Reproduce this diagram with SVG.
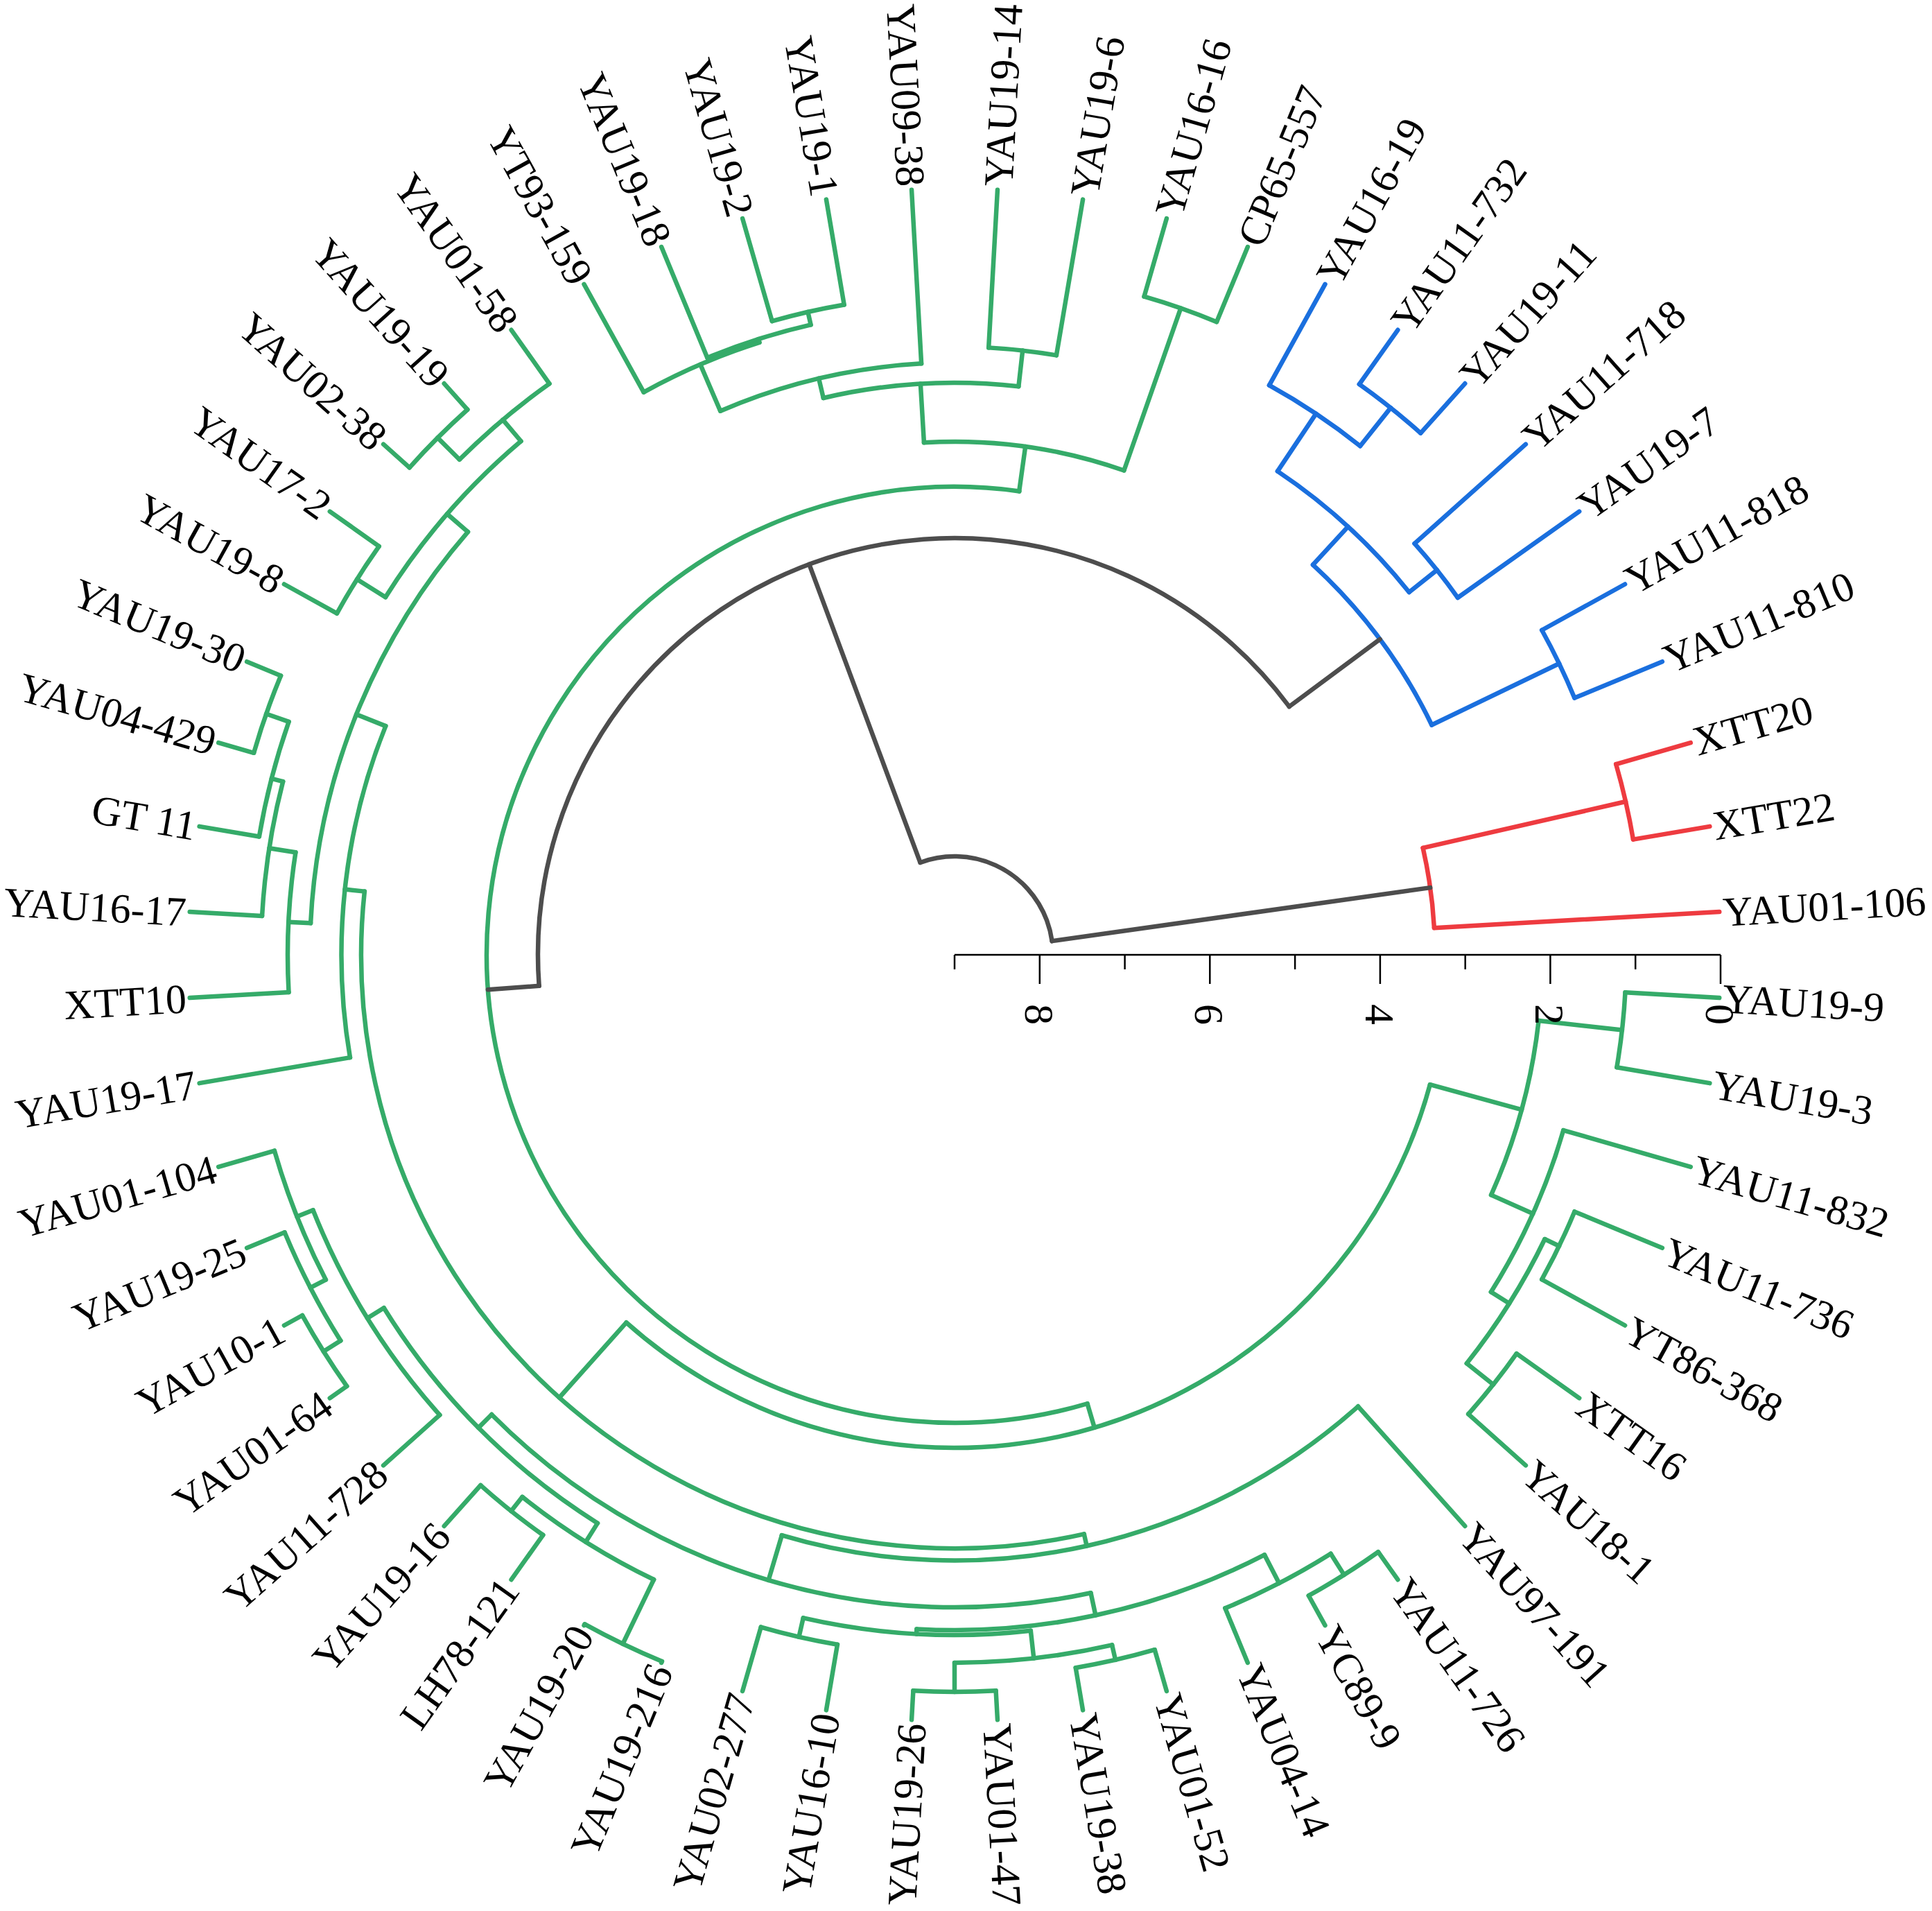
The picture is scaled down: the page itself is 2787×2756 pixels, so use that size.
<svg xmlns="http://www.w3.org/2000/svg" width="2787" height="2756" viewBox="0 0 2787 2756">
<style>
.conn line,.conn circle{fill:none;stroke-width:6.5;stroke-linecap:round}
.g{stroke:#35AB69}.b{stroke:#1A6FDE}.r{stroke:#EE3B40}.k{stroke:#4D4D4D}
text{font-family:"Liberation Serif","Times New Roman",serif;font-size:60px;fill:#000}
.l{text-anchor:end}
.axis line{stroke:#000;stroke-width:2.5}
.axis text{text-anchor:middle}
</style>
<rect width="2787" height="2756" fill="#fff"/>
<g transform="translate(1377 1377)">
<g id="connectors" class="conn">
<g class="g">
<circle r="969" transform="rotate(3.214)" stroke-dasharray="108.73 10000"/>
<circle r="968" transform="rotate(22.5)" stroke-dasharray="108.62 10000"/>
<circle r="994" transform="rotate(35.357)" stroke-dasharray="111.53 10000"/>
<circle r="945" transform="rotate(25.714)" stroke-dasharray="212.06 10000"/>
<circle r="914" transform="rotate(16.071)" stroke-dasharray="256.39 10000"/>
<circle r="848" transform="rotate(6.429)" stroke-dasharray="261.64 10000"/>
<circle r="1056" transform="rotate(54.643)" stroke-dasharray="118.49 10000"/>
<circle r="1020" transform="rotate(57.857)" stroke-dasharray="171.67 10000"/>
<circle r="1043" transform="rotate(73.929)" stroke-dasharray="117.03 10000"/>
<circle r="1063" transform="rotate(86.786)" stroke-dasharray="119.28 10000"/>
<circle r="1021" transform="rotate(77.143)" stroke-dasharray="229.11 10000"/>
<circle r="1009" transform="rotate(99.643)" stroke-dasharray="113.22 10000"/>
<circle r="981" transform="rotate(83.571)" stroke-dasharray="330.21 10000"/>
<circle r="974" transform="rotate(62.679)" stroke-dasharray="519.08 10000"/>
<circle r="1103" transform="rotate(112.5)" stroke-dasharray="123.76 10000"/>
<circle r="1026" transform="rotate(125.357)" stroke-dasharray="115.12 10000"/>
<circle r="1000" transform="rotate(115.714)" stroke-dasharray="224.40 10000"/>
<circle r="1075" transform="rotate(144.643)" stroke-dasharray="120.62 10000"/>
<circle r="1046" transform="rotate(147.857)" stroke-dasharray="176.04 10000"/>
<circle r="1021" transform="rotate(152.679)" stroke-dasharray="200.47 10000"/>
<circle r="996" transform="rotate(138.214)" stroke-dasharray="349.23 10000"/>
<circle r="968" transform="rotate(122.143)" stroke-dasharray="441.22 10000"/>
<circle r="941" transform="rotate(77.946)" stroke-dasharray="940.33 10000"/>
<circle r="873.5" transform="rotate(48.214)" stroke-dasharray="889.73 10000"/>
<circle r="1052" transform="rotate(196.071)" stroke-dasharray="118.04 10000"/>
<circle r="1017.5" transform="rotate(189.643)" stroke-dasharray="171.25 10000"/>
<circle r="1000.5" transform="rotate(183.214)" stroke-dasharray="196.45 10000"/>
<circle r="962" transform="rotate(176.786)" stroke-dasharray="202.37 10000"/>
<circle r="1018" transform="rotate(208.929)" stroke-dasharray="114.23 10000"/>
<circle r="1054.5" transform="rotate(221.786)" stroke-dasharray="118.32 10000"/>
<circle r="1010" transform="rotate(225)" stroke-dasharray="169.99 10000"/>
<circle r="969.5" transform="rotate(212.143)" stroke-dasharray="299.13 10000"/>
<circle r="930" transform="rotate(182.813)" stroke-dasharray="619.54 10000"/>
<circle r="884.5" transform="rotate(170.357)" stroke-dasharray="486.90 10000"/>
<circle r="856" transform="rotate(77.394)" stroke-dasharray="1624.48 10000"/>
<circle r="711" transform="rotate(15.268)" stroke-dasharray="1445.58 10000"/>
<circle r="951" transform="rotate(253.929)" stroke-dasharray="106.71 10000"/>
<circle r="932" transform="rotate(247.5)" stroke-dasharray="156.86 10000"/>
<circle r="927" transform="rotate(241.071)" stroke-dasharray="182.02 10000"/>
<circle r="854" transform="rotate(246.696)" stroke-dasharray="299.44 10000"/>
<circle r="877" transform="rotate(273.214)" stroke-dasharray="98.41 10000"/>
<circle r="825" transform="rotate(256.741)" stroke-dasharray="283.49 10000"/>
<circle r="988" transform="rotate(286.071)" stroke-dasharray="110.86 10000"/>
<circle r="740" transform="rotate(266.585)" stroke-dasharray="293.19 10000"/>
<circle r="675" transform="rotate(73.514)" stroke-dasharray="2408.27 10000"/>
<line x1="969" x2="1105" transform="rotate(3.214)"/>
<line x1="969" x2="1105" transform="rotate(9.643)"/>
<line x1="968" x2="1105" transform="rotate(22.5)"/>
<line x1="968" x2="1105" transform="rotate(28.929)"/>
<line x1="994" x2="1105" transform="rotate(35.357)"/>
<line x1="994" x2="1105" transform="rotate(41.786)"/>
<line x1="945" x2="968" transform="rotate(25.714)"/>
<line x1="945" x2="994" transform="rotate(38.571)"/>
<line x1="914" x2="1105" transform="rotate(16.071)"/>
<line x1="914" x2="945" transform="rotate(32.143)"/>
<line x1="848" x2="969" transform="rotate(6.429)"/>
<line x1="848" x2="914" transform="rotate(24.107)"/>
<line x1="1056" x2="1105" transform="rotate(54.643)"/>
<line x1="1056" x2="1105" transform="rotate(61.071)"/>
<line x1="1020" x2="1105" transform="rotate(67.5)"/>
<line x1="1020" x2="1056" transform="rotate(57.857)"/>
<line x1="1043" x2="1105" transform="rotate(73.929)"/>
<line x1="1043" x2="1105" transform="rotate(80.357)"/>
<line x1="1063" x2="1105" transform="rotate(86.786)"/>
<line x1="1063" x2="1105" transform="rotate(93.214)"/>
<line x1="1021" x2="1043" transform="rotate(77.143)"/>
<line x1="1021" x2="1063" transform="rotate(90)"/>
<line x1="1009" x2="1105" transform="rotate(99.643)"/>
<line x1="1009" x2="1105" transform="rotate(106.071)"/>
<line x1="981" x2="1021" transform="rotate(83.571)"/>
<line x1="981" x2="1009" transform="rotate(102.857)"/>
<line x1="974" x2="1020" transform="rotate(62.679)"/>
<line x1="974" x2="981" transform="rotate(93.214)"/>
<line x1="1103" x2="1105" transform="rotate(112.5)"/>
<line x1="1103" x2="1105" transform="rotate(118.929)"/>
<line x1="1026" x2="1105" transform="rotate(125.357)"/>
<line x1="1026" x2="1105" transform="rotate(131.786)"/>
<line x1="1000" x2="1103" transform="rotate(115.714)"/>
<line x1="1000" x2="1026" transform="rotate(128.571)"/>
<line x1="1075" x2="1105" transform="rotate(144.643)"/>
<line x1="1075" x2="1105" transform="rotate(151.071)"/>
<line x1="1046" x2="1105" transform="rotate(157.5)"/>
<line x1="1046" x2="1075" transform="rotate(147.857)"/>
<line x1="1021" x2="1105" transform="rotate(163.929)"/>
<line x1="1021" x2="1046" transform="rotate(152.679)"/>
<line x1="996" x2="1105" transform="rotate(138.214)"/>
<line x1="996" x2="1021" transform="rotate(158.304)"/>
<line x1="968" x2="1000" transform="rotate(122.143)"/>
<line x1="968" x2="996" transform="rotate(148.259)"/>
<line x1="941" x2="974" transform="rotate(77.946)"/>
<line x1="941" x2="968" transform="rotate(135.201)"/>
<line x1="873.5" x2="1105" transform="rotate(48.214)"/>
<line x1="873.5" x2="941" transform="rotate(106.574)"/>
<line x1="1052" x2="1105" transform="rotate(196.071)"/>
<line x1="1052" x2="1105" transform="rotate(202.5)"/>
<line x1="1017.5" x2="1105" transform="rotate(189.643)"/>
<line x1="1017.5" x2="1052" transform="rotate(199.286)"/>
<line x1="1000.5" x2="1105" transform="rotate(183.214)"/>
<line x1="1000.5" x2="1017.5" transform="rotate(194.464)"/>
<line x1="962" x2="1105" transform="rotate(176.786)"/>
<line x1="962" x2="1000.5" transform="rotate(188.839)"/>
<line x1="1018" x2="1105" transform="rotate(208.929)"/>
<line x1="1018" x2="1105" transform="rotate(215.357)"/>
<line x1="1054.5" x2="1105" transform="rotate(221.786)"/>
<line x1="1054.5" x2="1105" transform="rotate(228.214)"/>
<line x1="1010" x2="1054.5" transform="rotate(225)"/>
<line x1="1010" x2="1105" transform="rotate(234.643)"/>
<line x1="969.5" x2="1018" transform="rotate(212.143)"/>
<line x1="969.5" x2="1010" transform="rotate(229.821)"/>
<line x1="930" x2="962" transform="rotate(182.813)"/>
<line x1="930" x2="969.5" transform="rotate(220.982)"/>
<line x1="884.5" x2="1105" transform="rotate(170.357)"/>
<line x1="884.5" x2="930" transform="rotate(201.897)"/>
<line x1="856" x2="873.5" transform="rotate(77.394)"/>
<line x1="856" x2="884.5" transform="rotate(186.127)"/>
<line x1="711" x2="848" transform="rotate(15.268)"/>
<line x1="711" x2="856" transform="rotate(131.76)"/>
<line x1="951" x2="1105" transform="rotate(253.929)"/>
<line x1="951" x2="1105" transform="rotate(260.357)"/>
<line x1="932" x2="1105" transform="rotate(247.5)"/>
<line x1="932" x2="951" transform="rotate(257.143)"/>
<line x1="927" x2="1105" transform="rotate(241.071)"/>
<line x1="927" x2="932" transform="rotate(252.321)"/>
<line x1="854" x2="927" transform="rotate(246.696)"/>
<line x1="854" x2="1105" transform="rotate(266.786)"/>
<line x1="877" x2="1105" transform="rotate(273.214)"/>
<line x1="877" x2="1105" transform="rotate(279.643)"/>
<line x1="825" x2="854" transform="rotate(256.741)"/>
<line x1="825" x2="877" transform="rotate(276.429)"/>
<line x1="988" x2="1105" transform="rotate(286.071)"/>
<line x1="988" x2="1105" transform="rotate(292.5)"/>
<line x1="740" x2="825" transform="rotate(266.585)"/>
<line x1="740" x2="988" transform="rotate(289.286)"/>
<line x1="675" x2="711" transform="rotate(73.514)"/>
<line x1="675" x2="740" transform="rotate(277.935)"/>
</g>
<g class="b">
<circle r="1009" transform="rotate(305.357)" stroke-dasharray="113.22 10000"/>
<circle r="938.5" transform="rotate(298.929)" stroke-dasharray="157.94 10000"/>
<circle r="890" transform="rotate(318.214)" stroke-dasharray="99.86 10000"/>
<circle r="838.7" transform="rotate(303.75)" stroke-dasharray="258.79 10000"/>
<circle r="968" transform="rotate(331.071)" stroke-dasharray="108.62 10000"/>
<circle r="764" transform="rotate(312.589)" stroke-dasharray="289.31 10000"/>
<line x1="1009" x2="1105" transform="rotate(305.357)"/>
<line x1="1009" x2="1105" transform="rotate(311.786)"/>
<line x1="938.5" x2="1105" transform="rotate(298.929)"/>
<line x1="938.5" x2="1009" transform="rotate(308.571)"/>
<line x1="890" x2="1105" transform="rotate(318.214)"/>
<line x1="890" x2="1105" transform="rotate(324.643)"/>
<line x1="838.7" x2="938.5" transform="rotate(303.75)"/>
<line x1="838.7" x2="890" transform="rotate(321.429)"/>
<line x1="968" x2="1105" transform="rotate(331.071)"/>
<line x1="968" x2="1105" transform="rotate(337.5)"/>
<line x1="764" x2="838.7" transform="rotate(312.589)"/>
<line x1="764" x2="968" transform="rotate(334.286)"/>
</g>
<g class="r">
<circle r="993" transform="rotate(343.929)" stroke-dasharray="111.42 10000"/>
<circle r="693" transform="rotate(347.143)" stroke-dasharray="116.63 10000"/>
<line x1="993" x2="1105" transform="rotate(343.929)"/>
<line x1="993" x2="1105" transform="rotate(350.357)"/>
<line x1="693" x2="993" transform="rotate(347.143)"/>
<line x1="693" x2="1105" transform="rotate(356.786)"/>
</g>
<g class="k">
<circle r="601" transform="rotate(175.725)" stroke-dasharray="1549.43 10000"/>
<circle r="142" transform="rotate(249.581)" stroke-dasharray="253.74 10000"/>
<line x1="601" x2="675" transform="rotate(175.725)"/>
<line x1="601" x2="764" transform="rotate(323.438)"/>
<line x1="142" x2="601" transform="rotate(249.581)"/>
<line x1="142" x2="693" transform="rotate(351.964)"/>
</g>
</g>
<g id="leaves">
<g id="n0"><text transform="rotate(3.214) translate(1110 0)" dy="0.35em">YAU19-9</text></g>
<g id="n1"><text transform="rotate(9.643) translate(1110 0)" dy="0.35em">YAU19-3</text></g>
<g id="n2"><text transform="rotate(16.071) translate(1110 0)" dy="0.35em">YAU11-832</text></g>
<g id="n3"><text transform="rotate(22.5) translate(1110 0)" dy="0.35em">YAU11-736</text></g>
<g id="n4"><text transform="rotate(28.929) translate(1110 0)" dy="0.35em">YT86-368</text></g>
<g id="n5"><text transform="rotate(35.357) translate(1110 0)" dy="0.35em">XTT16</text></g>
<g id="n6"><text transform="rotate(41.786) translate(1110 0)" dy="0.35em">YAU18-1</text></g>
<g id="n7"><text transform="rotate(48.214) translate(1110 0)" dy="0.35em">YAU97-191</text></g>
<g id="n8"><text transform="rotate(54.643) translate(1110 0)" dy="0.35em">YAU11-726</text></g>
<g id="n9"><text transform="rotate(61.071) translate(1110 0)" dy="0.35em">YC89-9</text></g>
<g id="n10"><text transform="rotate(67.5) translate(1110 0)" dy="0.35em">YAU04-14</text></g>
<g id="n11"><text transform="rotate(73.929) translate(1110 0)" dy="0.35em">YAU01-52</text></g>
<g id="n12"><text transform="rotate(80.357) translate(1110 0)" dy="0.35em">YAU19-38</text></g>
<g id="n13"><text transform="rotate(86.786) translate(1110 0)" dy="0.35em">YAU01-47</text></g>
<g id="n14"><text class="l" transform="rotate(93.214) translate(1110 0) rotate(180)" dy="0.35em">YAU19-26</text></g>
<g id="n15"><text class="l" transform="rotate(99.643) translate(1110 0) rotate(180)" dy="0.35em">YAU16-10</text></g>
<g id="n16"><text class="l" transform="rotate(106.071) translate(1110 0) rotate(180)" dy="0.35em">YAU02-277</text></g>
<g id="n17"><text class="l" transform="rotate(112.5) translate(1110 0) rotate(180)" dy="0.35em">YAU19-216</text></g>
<g id="n18"><text class="l" transform="rotate(118.929) translate(1110 0) rotate(180)" dy="0.35em">YAU19-20</text></g>
<g id="n19"><text class="l" transform="rotate(125.357) translate(1110 0) rotate(180)" dy="0.35em">LH78-121</text></g>
<g id="n20"><text class="l" transform="rotate(131.786) translate(1110 0) rotate(180)" dy="0.35em">YAU19-16</text></g>
<g id="n21"><text class="l" transform="rotate(138.214) translate(1110 0) rotate(180)" dy="0.35em">YAU11-728</text></g>
<g id="n22"><text class="l" transform="rotate(144.643) translate(1110 0) rotate(180)" dy="0.35em">YAU01-64</text></g>
<g id="n23"><text class="l" transform="rotate(151.071) translate(1110 0) rotate(180)" dy="0.35em">YAU10-1</text></g>
<g id="n24"><text class="l" transform="rotate(157.5) translate(1110 0) rotate(180)" dy="0.35em">YAU19-25</text></g>
<g id="n25"><text class="l" transform="rotate(163.929) translate(1110 0) rotate(180)" dy="0.35em">YAU01-104</text></g>
<g id="n26"><text class="l" transform="rotate(170.357) translate(1110 0) rotate(180)" dy="0.35em">YAU19-17</text></g>
<g id="n27"><text class="l" transform="rotate(176.786) translate(1110 0) rotate(180)" dy="0.35em">XTT10</text></g>
<g id="n28"><text class="l" transform="rotate(183.214) translate(1110 0) rotate(180)" dy="0.35em">YAU16-17</text></g>
<g id="n29"><text class="l" transform="rotate(189.643) translate(1110 0) rotate(180)" dy="0.35em">GT 11</text></g>
<g id="n30"><text class="l" transform="rotate(196.071) translate(1110 0) rotate(180)" dy="0.35em">YAU04-429</text></g>
<g id="n31"><text class="l" transform="rotate(202.5) translate(1110 0) rotate(180)" dy="0.35em">YAU19-30</text></g>
<g id="n32"><text class="l" transform="rotate(208.929) translate(1110 0) rotate(180)" dy="0.35em">YAU19-8</text></g>
<g id="n33"><text class="l" transform="rotate(215.357) translate(1110 0) rotate(180)" dy="0.35em">YAU17-2</text></g>
<g id="n34"><text class="l" transform="rotate(221.786) translate(1110 0) rotate(180)" dy="0.35em">YAU02-38</text></g>
<g id="n35"><text class="l" transform="rotate(228.214) translate(1110 0) rotate(180)" dy="0.35em">YAU19-19</text></g>
<g id="n36"><text class="l" transform="rotate(234.643) translate(1110 0) rotate(180)" dy="0.35em">YAU01-58</text></g>
<g id="n37"><text class="l" transform="rotate(241.071) translate(1110 0) rotate(180)" dy="0.35em">YT93-159</text></g>
<g id="n38"><text class="l" transform="rotate(247.5) translate(1110 0) rotate(180)" dy="0.35em">YAU19-18</text></g>
<g id="n39"><text class="l" transform="rotate(253.929) translate(1110 0) rotate(180)" dy="0.35em">YAU19-2</text></g>
<g id="n40"><text class="l" transform="rotate(260.357) translate(1110 0) rotate(180)" dy="0.35em">YAU19-1</text></g>
<g id="n41"><text class="l" transform="rotate(266.786) translate(1110 0) rotate(180)" dy="0.35em">YAU09-38</text></g>
<g id="n42"><text transform="rotate(273.214) translate(1110 0)" dy="0.35em">YAU19-14</text></g>
<g id="n43"><text transform="rotate(279.643) translate(1110 0)" dy="0.35em">YAU19-6</text></g>
<g id="n44"><text transform="rotate(286.071) translate(1110 0)" dy="0.35em">YAU16-16</text></g>
<g id="n45"><text transform="rotate(292.5) translate(1110 0)" dy="0.35em">CP65-557</text></g>
<g id="n46"><text transform="rotate(298.929) translate(1110 0)" dy="0.35em">YAU16-19</text></g>
<g id="n47"><text transform="rotate(305.357) translate(1110 0)" dy="0.35em">YAU11-732</text></g>
<g id="n48"><text transform="rotate(311.786) translate(1110 0)" dy="0.35em">YAU19-11</text></g>
<g id="n49"><text transform="rotate(318.214) translate(1110 0)" dy="0.35em">YAU11-718</text></g>
<g id="n50"><text transform="rotate(324.643) translate(1110 0)" dy="0.35em">YAU19-7</text></g>
<g id="n51"><text transform="rotate(331.071) translate(1110 0)" dy="0.35em">YAU11-818</text></g>
<g id="n52"><text transform="rotate(337.5) translate(1110 0)" dy="0.35em">YAU11-810</text></g>
<g id="n53"><text transform="rotate(343.929) translate(1110 0)" dy="0.35em">XTT20</text></g>
<g id="n54"><text transform="rotate(350.357) translate(1110 0)" dy="0.35em">XTT22</text></g>
<g id="n55"><text transform="rotate(356.786) translate(1110 0)" dy="0.35em">YAU01-106</text></g>
</g>
<g id="axis" class="axis">
<line x1="0" y1="0" x2="1105" y2="0"/>
<line x1="0" y1="0" x2="0" y2="21"/>
<line x1="122.8" y1="0" x2="122.8" y2="42"/>
<line x1="245.6" y1="0" x2="245.6" y2="21"/>
<line x1="368.3" y1="0" x2="368.3" y2="42"/>
<line x1="491.1" y1="0" x2="491.1" y2="21"/>
<line x1="613.9" y1="0" x2="613.9" y2="42"/>
<line x1="736.7" y1="0" x2="736.7" y2="21"/>
<line x1="859.4" y1="0" x2="859.4" y2="42"/>
<line x1="982.2" y1="0" x2="982.2" y2="21"/>
<line x1="1105" y1="0" x2="1105" y2="42"/>
<text transform="translate(122.8 86) rotate(90)" dy="0.35em">8</text>
<text transform="translate(368.3 86) rotate(90)" dy="0.35em">6</text>
<text transform="translate(613.9 86) rotate(90)" dy="0.35em">4</text>
<text transform="translate(859.4 86) rotate(90)" dy="0.35em">2</text>
<text transform="translate(1105 86) rotate(90)" dy="0.35em">0</text>
</g>
</g>
</svg>
